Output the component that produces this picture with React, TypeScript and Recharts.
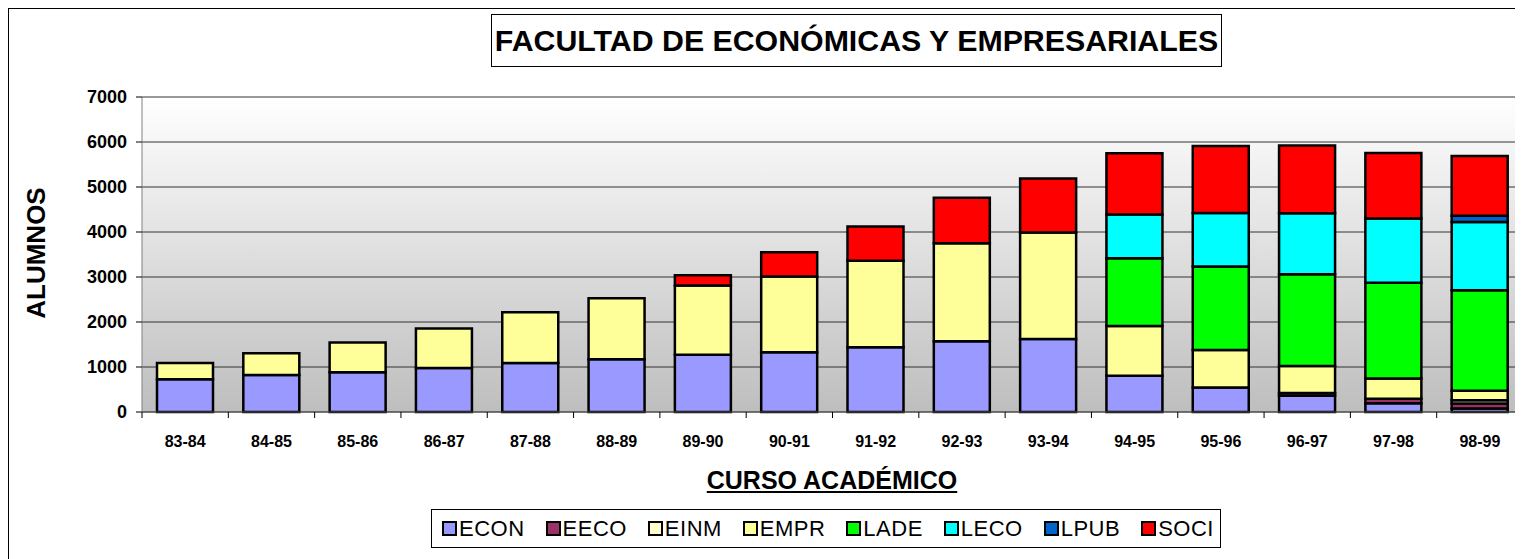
import { BarChart, Bar, XAxis, YAxis, CartesianGrid } from "recharts";

const cursos = ["83-84", "84-85", "85-86", "86-87", "87-88", "88-89", "89-90", "90-91", "91-92", "92-93", "93-94", "94-95", "95-96", "96-97", "97-98", "98-99"];

const econ = [730, 820, 885, 980, 1090, 1175, 1270, 1330, 1440, 1570, 1620, 805, 545, 362, 195, 80];
const eeco = [0, 0, 0, 0, 0, 0, 0, 0, 0, 0, 0, 0, 0, 60, 100, 110];
const einm = [0, 0, 0, 0, 0, 0, 0, 0, 0, 0, 0, 0, 0, 0, 0, 70];
const empr = [360, 485, 660, 875, 1125, 1355, 1540, 1680, 1920, 2180, 2370, 1105, 835, 600, 450, 213];
const lade = [0, 0, 0, 0, 0, 0, 0, 0, 0, 0, 0, 1505, 1855, 2038, 2125, 2232];
const leco = [0, 0, 0, 0, 0, 0, 0, 0, 0, 0, 0, 975, 1190, 1355, 1430, 1515];
const lpub = [0, 0, 0, 0, 0, 0, 0, 0, 0, 0, 0, 0, 0, 0, 0, 140];
const soci = [0, 0, 0, 0, 0, 0, 230, 540, 760, 1010, 1200, 1360, 1485, 1510, 1455, 1330];

const yTicks = [0, 1000, 2000, 3000, 4000, 5000, 6000, 7000];

const series = [
  { key: "ECON", values: econ, color: "#9999FF" },
  { key: "EECO", values: eeco, color: "#993366" },
  { key: "EINM", values: einm, color: "#FFFFCC" },
  { key: "EMPR", values: empr, color: "#FFFF99" },
  { key: "LADE", values: lade, color: "#00FF00" },
  { key: "LECO", values: leco, color: "#00FFFF" },
  { key: "LPUB", values: lpub, color: "#0066CC" },
  { key: "SOCI", values: soci, color: "#FF0000" },
];

const data = cursos.map((curso, i) => {
  const row: any = { curso };
  series.forEach((s) => (row[s.key] = s.values[i]));
  return row;
});

const W = 1515;
const H = 551;
const PLOT_LEFT = 134;
const band = (W - PLOT_LEFT) / cursos.length;
const font = "Arial, 'Liberation Sans', sans-serif";

function CursoTick(props: any) {
  const { x, y, payload } = props;
  return (
    <g>
      <line x1={x - band / 2} y1={y} x2={x - band / 2} y2={y + 6} stroke="#000" />
      <text x={x} y={y + 35} textAnchor="middle" fontFamily={font} fontWeight="bold" fontSize={16} fill="#000">
        {payload.value}
      </text>
    </g>
  );
}

function LegendBox() {
  return (
    <div
      style={{
        position: "absolute",
        left: 423,
        top: 501,
        width: 790,
        height: 39,
        boxSizing: "border-box",
        border: "1px solid #000",
        background: "#fff",
        display: "flex",
        alignItems: "center",
        justifyContent: "space-between",
        padding: "0 6px 0 10px",
        fontFamily: font,
        fontSize: 22,
      }}
    >
      {series.map((s) => (
        <span key={s.key} style={{ display: "flex", alignItems: "center", letterSpacing: 0.5 }}>
          <span
            style={{
              display: "inline-block",
              width: 11,
              height: 11,
              background: s.color,
              border: "2px solid #000",
              marginRight: 2,
            }}
          />
          {s.key}
        </span>
      ))}
    </div>
  );
}

export default function App() {
  return (
    <div style={{ position: "relative", width: W, height: H, background: "#fff" }}>
      <style>{"body{overflow:hidden}"}</style>
      <div style={{ position: "absolute", left: 0, top: 0, width: W + 20, height: 1, background: "#000", zIndex: 5 }} />
      <div style={{ position: "absolute", left: 0, top: 0, width: 1, height: H + 20, background: "#000", zIndex: 5 }} />
      <div
        style={{
          position: "absolute",
          left: 483,
          top: 6,
          width: 731,
          height: 53,
          boxSizing: "border-box",
          border: "1px solid #000",
          display: "flex",
          alignItems: "center",
          justifyContent: "center",
          fontFamily: font,
          fontWeight: "bold",
          fontSize: 30.3,
          whiteSpace: "nowrap",
        }}
      >
        FACULTAD DE ECONÓMICAS Y EMPRESARIALES
      </div>
      <div
        style={{
          position: "absolute",
          left: 28 - 100,
          top: 245 - 15,
          width: 200,
          height: 30,
          lineHeight: "30px",
          textAlign: "center",
          transform: "rotate(-90deg)",
          fontFamily: font,
          fontWeight: "bold",
          fontSize: 26,
        }}
      >
        ALUMNOS
      </div>
      <div
        style={{
          position: "absolute",
          left: 624,
          top: 458,
          width: 400,
          textAlign: "center",
          fontFamily: font,
          fontWeight: "bold",
          fontSize: 25,
          textDecoration: "underline",
        }}
      >
        CURSO ACADÉMICO
      </div>
      <LegendBox />
      <BarChart width={W} height={H} data={data} margin={{ top: 89, right: 0, left: 0, bottom: 117 }} barSize={56}>
        <defs>
          <linearGradient id="fondo" x1="0" y1="0" x2="0" y2="1">
            <stop offset="0%" stopColor="#FFFFFF" />
            <stop offset="100%" stopColor="#BEBEBE" />
          </linearGradient>
        </defs>
        <CartesianGrid vertical={false} stroke="#333" fill="url(#fondo)" fillOpacity={1} />
        <XAxis
          dataKey="curso"
          height={30}
          axisLine={{ stroke: "#555" }}
          tickLine={false}
          tickSize={0}
          tickMargin={0}
          interval={0}
          tick={<CursoTick />}
        />
        <YAxis
          width={PLOT_LEFT}
          domain={[0, 7000]}
          ticks={yTicks}
          interval={0}
          axisLine={{ stroke: "#808080" }}
          tickLine={{ stroke: "#000" }}
          tickSize={6}
          tickMargin={9}
          tick={{ fontFamily: font, fontWeight: "bold", fontSize: 18, fill: "#000" }}
        />
        {series.map((s) => (
          <Bar key={s.key} dataKey={s.key} stackId="a" fill={s.color} stroke="#000" strokeWidth={2.5} isAnimationActive={false} />
        ))}
      </BarChart>
    </div>
  );
}
